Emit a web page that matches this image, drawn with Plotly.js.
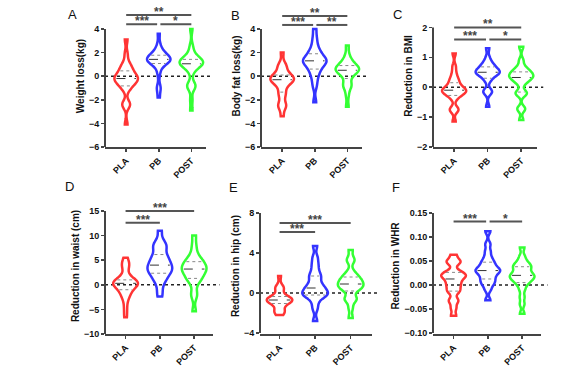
<!DOCTYPE html>
<html><head><meta charset="utf-8">
<script src="https://cdn.plot.ly/plotly-3.0.1.min.js"></script>
<style>html,body{margin:0;padding:0;background:#fff}#chart{width:581px;height:368px}</style>
</head><body><div id="chart"></div>
<script>
const groups = ['PLA', 'PB', 'POST'];
const colors = ['#ff3434', '#3434ff', '#34ff34'];

// A: weight loss (kg)
const weightPLA = [3.1, 1.9, 1.2, 0.9, 0.7, 0.6, 0.4, 0.2, 0.1, 0.0, -0.1, -0.2, -0.2, -0.3, -0.4, -0.5, -0.6, -0.8, -0.9, -1.2, -2.3, -2.4, -2.5, -4.1];
const weightPB = [3.6, 2.7, 2.3, 2.1, 1.95, 1.85, 1.75, 1.65, 1.55, 1.5, 1.45, 1.45, 1.4, 1.35, 1.3, 1.25, 1.2, 1.1, 1.0, 0.7, 0.2, -0.9, -1.1, -1.8];
const weightPOST = [4.0, 2.6, 2.1, 1.8, 1.6, 1.5, 1.4, 1.3, 1.25, 1.2, 1.15, 1.1, 1.0, 1.0, 0.9, 0.8, 0.6, 0.3, -0.6, -0.8, -0.9, -1.0, -2.0, -2.9];
// B: body fat loss (kg)
const fatPLA = [2.0, 1.0, 0.9, 0.7, 0.3, 0.2, 0.0, -0.1, -0.1, -0.2, -0.3, -0.3, -0.4, -0.5, -0.6, -0.8, -1.2, -1.5, -1.7, -2.4, -2.5, -2.6, -3.4];
const fatPB = [4.0, 3.3, 2.8, 2.4, 2.1, 2.0, 1.8, 1.6, 1.5, 1.4, 1.35, 1.3, 1.2, 1.1, 1.0, 0.9, 0.7, 0.5, 0.3, 0.0, -0.4, -0.9, -2.2];
const fatPOST = [2.6, 1.8, 1.4, 1.2, 1.0, 0.9, 0.8, 0.7, 0.6, 0.55, 0.5, 0.45, 0.4, 0.3, 0.1, -0.2, -0.7, -0.8, -0.9, -1.6, -2.6];
// C: reduction in BMI
const bmiPLA = [1.13, 0.7, 0.5, 0.35, 0.25, 0.2, 0.1, 0.05, 0.0, -0.05, -0.08, -0.1, -0.12, -0.15, -0.18, -0.2, -0.25, -0.3, -0.4, -0.7, -0.75, -0.8, -1.15];
const bmiPB = [1.3, 1.0, 0.85, 0.78, 0.72, 0.68, 0.62, 0.58, 0.55, 0.53, 0.5, 0.48, 0.45, 0.42, 0.38, 0.3, 0.2, -0.1, -0.15, -0.2, -0.65];
const bmiPOST = [1.35, 0.9, 0.7, 0.6, 0.55, 0.5, 0.45, 0.4, 0.38, 0.35, 0.3, 0.25, 0.2, 0.1, -0.15, -0.2, -0.25, -0.7, -0.75, -1.1];
// D: reduction in waist (cm)
const waistPLA = [5.5, 4.5, 4.0, 3.8, 2.5, 1.5, 1.0, 0.8, 0.7, 0.6, 0.5, 0.4, 0.3, 0.2, 0.0, -0.3, -0.5, -0.6, -1.0, -1.8, -2.0, -2.3, -3.5, -5.0, -6.6];
const waistPB = [11.0, 9.0, 8.2, 7.8, 7.5, 6.5, 5.8, 5.5, 5.2, 4.5, 4.2, 4.0, 3.8, 3.2, 3.0, 2.8, 2.5, 2.2, 1.5, 1.0, 0.5, -1.0, -2.4];
const waistPOST = [10.0, 8.0, 6.5, 5.5, 5.0, 4.7, 4.4, 4.0, 3.6, 3.3, 3.2, 3.0, 2.6, 2.2, 1.8, 1.3, 1.0, 0.3, -1.5, -2.5, -5.4];
// E: reduction in hip (cm)
const hipPLA = [1.7, 0.6, 0.5, 0.4, -0.3, -0.4, -0.5, -0.6, -0.65, -0.7, -0.75, -0.8, -0.9, -1.0, -1.1, -1.7, -1.8, -1.9, -2.2];
const hipPB = [4.7, 3.6, 3.0, 2.5, 2.0, 1.7, 1.5, 1.1, 0.8, 0.6, 0.5, 0.3, 0.1, 0.0, -0.1, -0.2, -0.3, -0.5, -1.0, -1.6, -2.8];
const hipPOST = [4.3, 3.4, 3.2, 2.2, 1.8, 1.6, 1.5, 1.3, 1.1, 1.0, 0.9, 0.8, 0.6, 0.5, 0.4, 0.2, -0.5, -0.6, -0.7, -1.5, -2.5];
// F: reduction in WHR
const whrPLA = [0.063, 0.052, 0.048, 0.045, 0.030, 0.025, 0.022, 0.020, 0.018, 0.015, 0.010, 0.005, 0.000, -0.005, -0.012, -0.015, -0.030, -0.035, -0.048, -0.064];
const whrPB = [0.112, 0.085, 0.070, 0.058, 0.050, 0.045, 0.040, 0.035, 0.032, 0.030, 0.028, 0.025, 0.020, 0.015, 0.010, 0.005, 0.000, -0.010, -0.032];
const whrPOST = [0.078, 0.060, 0.050, 0.045, 0.040, 0.038, 0.035, 0.030, 0.025, 0.022, 0.020, 0.018, 0.015, 0.012, 0.010, 0.005, 0.000, -0.010, -0.025, -0.040, -0.060];

// y tick values
const yTicksA = [-6, -4, -2, 0, 2, 4];
const yTicksB = [-6, -4, -2, 0, 2, 4];
const yTicksC = [-2, -1, 0, 1, 2];
const yTicksD = [-10, -5, 0, 5, 10, 15];
const yTicksE = [-4, 0, 4, 8];
const yTicksF = [-0.10, -0.05, 0.00, 0.05, 0.10, 0.15];

// significance brackets: [from group, to group, level, label]
const sigA = [[0, 2, 5.19, '**'], [0, 0.95, 4.40, '***'], [1.05, 2, 4.40, '*']];
const sigB = [[0, 2, 5.10, '**'], [0, 0.95, 4.34, '***'], [1.05, 2, 4.34, '**']];
const sigC = [[0, 2, 2.00, '**'], [0, 0.95, 1.60, '***'], [1.05, 2, 1.60, '*']];
const sigD = [[0, 2, 15.0, '***'], [0, 1, 12.6, '***']];
const sigE = [[0, 2, 7.0, '***'], [0, 1, 6.1, '***']];
const sigF = [[0, 0.95, 0.132, '***'], [1.05, 2, 0.132, '*']];

const FONT = 'Arial, "Liberation Sans", sans-serif';
const W = 581, H = 368;
const VW = 0.72; // violin width in category units

const panels = [
  {letter: 'A', title: 'Weight loss(kg)', data: [weightPLA, weightPB, weightPOST], bw: 0.35, ticks: yTicksA, yr: [-6, 6.03], xr: [-0.65, 2.45], xpx: [105, 206], ypx: [5, 147], sig: sigA, lp: [72, 14], fmt: ''},
  {letter: 'B', title: 'Body fat loss(kg)', data: [fatPLA, fatPB, fatPOST], bw: 0.35, ticks: yTicksB, yr: [-6, 6.03], xr: [-0.65, 2.45], xpx: [261, 362], ypx: [5, 147], sig: sigB, lp: [235, 15], fmt: ''},
  {letter: 'C', title: 'Reduction in BMI', data: [bmiPLA, bmiPB, bmiPOST], bw: 0.1, ticks: yTicksC, yr: [-2, 2.75], xr: [-0.63, 2.47], xpx: [433, 537], ypx: [5, 147], sig: sigC, lp: [397, 14], fmt: ''},
  {letter: 'D', title: 'Reduction in waist (cm)', data: [waistPLA, waistPB, waistPOST], bw: 0.9, ticks: yTicksD, yr: [-10, 17.64], xr: [-0.6, 2.55], xpx: [105, 213], ypx: [198, 334], sig: sigD, lp: [69, 186], fmt: ''},
  {letter: 'E', title: 'Reduction in hip (cm)', data: [hipPLA, hipPB, hipPOST], bw: 0.35, ticks: yTicksE, yr: [-4.1, 9.5], xr: [-0.55, 2.6], xpx: [260, 372], ypx: [198, 334], sig: sigE, lp: [233, 187], fmt: ''},
  {letter: 'F', title: 'Reduction in WHR', data: [whrPLA, whrPB, whrPOST], bw: 0.006, ticks: yTicksF, yr: [-0.102, 0.181], xr: [-0.6, 2.55], xpx: [433, 541], ypx: [198, 334], sig: sigF, lp: [396, 187], fmt: '.2f'}
];

function quantile(sorted, p) {
  const pos = (sorted.length - 1) * p;
  const lo = Math.floor(pos), hi = Math.ceil(pos);
  return sorted[lo] + (sorted[hi] - sorted[lo]) * (pos - lo);
}
function kde(vals, bw, t) {
  let s = 0;
  for (const v of vals) { const z = (t - v) / bw; s += Math.exp(-0.5 * z * z); }
  return s;
}
function maxKde(vals, bw) {
  const lo = Math.min(...vals), hi = Math.max(...vals);
  const n = Math.ceil((hi - lo) / (bw / 3));
  const step = (hi - lo) / n;
  let m = 0;
  for (let t = lo; t < hi + step / 2; t += step) m = Math.max(m, kde(vals, bw, t));
  return m;
}

const traces = [], shapes = [], annotations = [], layout = {
  width: W, height: H, margin: {l: 0, r: 0, t: 0, b: 0},
  paper_bgcolor: '#fff', plot_bgcolor: 'rgba(0,0,0,0)',
  showlegend: false, violinmode: 'overlay',
  font: {family: FONT, color: '#111'}
};
const yTickFont = {size: 9, weight: 'bold', family: FONT, color: '#111'};
const xTickFont = {size: 9, weight: 'bold', family: FONT, color: '#111'};

panels.forEach((p, i) => {
  const sfx = i === 0 ? '' : String(i + 1);
  const xa = 'x' + sfx, ya = 'y' + sfx;
  layout['xaxis' + sfx] = {
    anchor: ya, domain: [p.xpx[0] / W, p.xpx[1] / W], range: p.xr,
    tickvals: [0, 1, 2], ticktext: groups, tickangle: -45, tickfont: xTickFont,
    showline: true, linecolor: '#444', linewidth: 2,
    ticks: 'outside', ticklen: 3, tickwidth: 1.5, tickcolor: '#444',
    showgrid: false, zeroline: false, fixedrange: true
  };
  layout['yaxis' + sfx] = {
    anchor: xa, domain: [1 - p.ypx[1] / H, 1 - p.ypx[0] / H], range: p.yr,
    tickvals: p.ticks, tickformat: p.fmt, tickfont: yTickFont,
    showline: false, ticks: 'outside', ticklen: 3, tickwidth: 1.5, tickcolor: '#444',
    showgrid: false, zeroline: false, fixedrange: true,
    title: {text: p.title, font: {size: 10, weight: 'bold', family: FONT, color: '#111'}, standoff: 2}
  };
  // y axis line (only up to the top tick)
  shapes.push({type: 'line', xref: xa + ' domain', yref: ya, x0: 0, x1: 0,
    y0: p.ticks[0], y1: p.ticks[p.ticks.length - 1], line: {color: '#444', width: 2}});
  // dotted zero line
  shapes.push({type: 'line', xref: xa + ' domain', yref: ya, x0: 0, x1: 1.06, y0: 0, y1: 0,
    layer: 'below', line: {color: '#222', width: 1.5, dash: 'dot'}});

  p.data.forEach((vals, g) => {
    traces.push({
      type: 'violin', x0: g, y: vals, name: groups[g], xaxis: xa, yaxis: ya,
      line: {color: colors[g], width: 2.5}, fillcolor: 'rgba(0,0,0,0)',
      points: false, spanmode: 'hard', bandwidth: p.bw, width: VW, scalemode: 'width',
      box: {visible: false}, meanline: {visible: false}, hoverinfo: 'skip'
    });
    // quartile lines
    const s = vals.slice().sort((a, b) => a - b);
    const mk = maxKde(vals, p.bw);
    const dx = (p.xr[1] - p.xr[0]) / (p.xpx[1] - p.xpx[0]); // data per px
    [[0.5, '#333', 'dash'], [0.25, '#888', 'dot'], [0.75, '#888', 'dot']].forEach(([q, c, d]) => {
      const qv = quantile(s, q);
      const hw = Math.max(0, (VW / 2) * kde(vals, p.bw, qv) / mk - 2 * dx);
      traces.push({type: 'scatter', mode: 'lines', x: [g - hw, g + hw], y: [qv, qv],
        xaxis: xa, yaxis: ya, line: {color: c, width: 1, dash: d}, hoverinfo: 'skip'});
    });
  });

  p.sig.forEach(([a, b, lvl, lab]) => {
    traces.push({type: 'scatter', mode: 'lines', x: [a, b], y: [lvl, lvl], xaxis: xa, yaxis: ya,
      line: {color: '#555', width: 2}, hoverinfo: 'skip'});
    annotations.push({xref: xa, yref: ya, x: (a + b) / 2, y: lvl, text: lab, showarrow: false,
      yanchor: 'middle', yshift: 3, font: {size: 12, weight: 'bold', color: '#444', family: FONT}});
  });

  annotations.push({xref: 'paper', yref: 'paper', x: p.lp[0] / W, y: 1 - p.lp[1] / H, text: p.letter,
    showarrow: false, xanchor: 'center', yanchor: 'middle', font: {size: 13, color: '#111', family: FONT}});
});

layout.shapes = shapes;
layout.annotations = annotations;
Plotly.newPlot('chart', traces, layout, {staticPlot: true, displayModeBar: false});
</script></body></html>
